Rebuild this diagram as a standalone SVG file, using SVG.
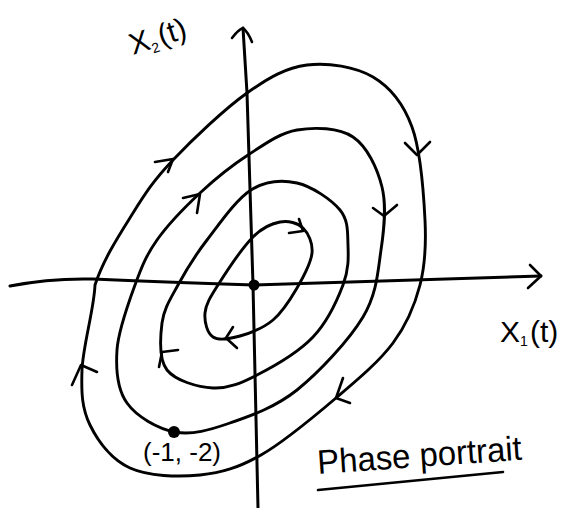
<svg xmlns="http://www.w3.org/2000/svg" width="561" height="508" viewBox="0 0 561 508">
<style>
.ln{fill:none;stroke:#000;stroke-width:2.9;stroke-linecap:round;stroke-linejoin:round}
.ax{fill:none;stroke:#000;stroke-width:3;stroke-linecap:round;stroke-linejoin:round}
.ar{fill:none;stroke:#000;stroke-width:2.6;stroke-linecap:round;stroke-linejoin:round}
.tx{font-family:"Liberation Sans",Arial,sans-serif;fill:#000}
</style>
<rect width="561" height="508" fill="#fff"/>
<g id="axes">
<path class="ax" d="M243,28 L247,93 L253,285 L258,508"/>
<path class="ar" d="M232,38 Q238,30 243,28 Q248,32 252,42"/>
<path class="ax" d="M10,286 Q50,278 93,279 Q160,282 254,285 Q400,281 541,276"/>
<path class="ar" d="M530,265 L541,276 L528,288"/>
</g>
<g id="trajectories">
<path id="orbit1" class="ln" d="M95,285 C103.5,258.8 120,233.8 133,213 C146,192.2 154,180 173,160 C192,140 224.7,108.8 247,93 C269.3,77.2 286,67.7 307,65 C328,62.3 355.5,66.7 373,77 C390.5,87.3 403.3,103.2 412,127 C420.7,150.8 423.7,193.7 425,220 C426.3,246.3 425.3,264.5 420,285 C414.7,305.5 407,324.2 393,343 C379,361.8 358,379.3 336,398 C314,416.7 283.7,442.2 261,455 C238.3,467.8 221.8,472.8 200,475 C178.2,477.2 148.3,476.3 130,468 C111.7,459.7 98,441.3 90,425 C82,408.7 81.2,393.3 82,370 C82.8,346.7 94.2,308.3 95,285 Z"/>
<path id="orbit2" class="ln" d="M135,285 C141.7,266.7 146.2,255.3 157,240 C167.8,224.7 184.8,207.2 200,193 C215.2,178.8 231.8,165.5 248,155 C264.2,144.5 279.5,133 297,130 C314.5,127 338.8,127.5 353,137 C367.2,146.5 377.3,168.2 382,187 C386.7,205.8 384.2,228.3 381,250 C377.8,271.7 377,293.7 363,317 C349,340.3 319.2,372.3 297,390 C274.8,407.7 250.3,416 230,423 C209.7,430 192.2,435.3 175,432 C157.8,428.7 136.7,416.7 127,403 C117.3,389.3 115.7,369.7 117,350 C118.3,330.3 128.3,303.3 135,285 Z"/>
<path id="orbit3" class="ln" d="M178,285 C185.5,271.2 194.8,255.8 207,240 C219.2,224.2 236,199.5 251,190 C266,180.5 282.2,179.7 297,183 C311.8,186.3 331.5,199.7 340,210 C348.5,220.3 347.5,232.5 348,245 C348.5,257.5 348.8,269.7 343,285 C337.2,300.3 327.3,322 313,337 C298.7,352 273.7,366.5 257,375 C240.3,383.5 228,388.8 213,388 C198,387.2 175.5,380.8 167,370 C158.5,359.2 160.2,337.2 162,323 C163.8,308.8 170.5,298.8 178,285 Z"/>
<path id="orbit4" class="ln" d="M218,285 C226,272.3 242.7,247.5 253,237 C263.3,226.5 271.7,223.5 280,222 C288.3,220.5 297.7,222.8 303,228 C308.3,233.2 313,243 312,253 C311,263 303.5,276.8 297,288 C290.5,299.2 282.5,312 273,320 C263.5,328 250,333.2 240,336 C230,338.8 218.8,340.8 213,337 C207.2,333.2 204.2,321.7 205,313 C205.8,304.3 210,297.7 218,285 Z"/>
</g>
<g id="arrows">
<path class="ar" d="M72,385 L81,365 L97,372"/>
<path class="ar" d="M155,162 L173,159 L168,172"/>
<path class="ar" d="M405,143 L417,155 L430,142"/>
<path class="ar" d="M343,378 L336,398 L350,403"/>
<path class="ar" d="M183,198 L200,194 L197,213"/>
<path class="ar" d="M373,208 L384,216 L397,205"/>
<path class="ar" d="M159,367 L162,352 L178,350"/>
<path class="ar" d="M289,233 L303,231 L299,219"/>
<path class="ar" d="M233,327 L226,338 L237,348"/>
</g>
<g id="points">
<circle cx="254" cy="285" r="5.5" fill="#000"/>
<circle cx="174" cy="432" r="6" fill="#000"/>
</g>
<g id="labels">
<text class="tx" font-size="30" transform="rotate(-18 133 55)"><tspan x="133" y="55">X</tspan><tspan x="153" y="60" font-size="14">2</tspan><tspan x="163" y="55">(t)</tspan></text>
<text class="tx" font-size="30"><tspan x="500" y="342">X</tspan><tspan x="520" y="346" font-size="14">1</tspan><tspan x="530" y="342">(t)</tspan></text>
<text class="tx" x="143" y="461" font-size="26">(-1, -2)</text>
<text class="tx" x="318" y="474" font-size="34" textLength="205" lengthAdjust="spacingAndGlyphs" transform="rotate(-4 318 474)">Phase portrait</text>
<path class="ar" d="M318,490 L503,472"/>
</g>
</svg>
